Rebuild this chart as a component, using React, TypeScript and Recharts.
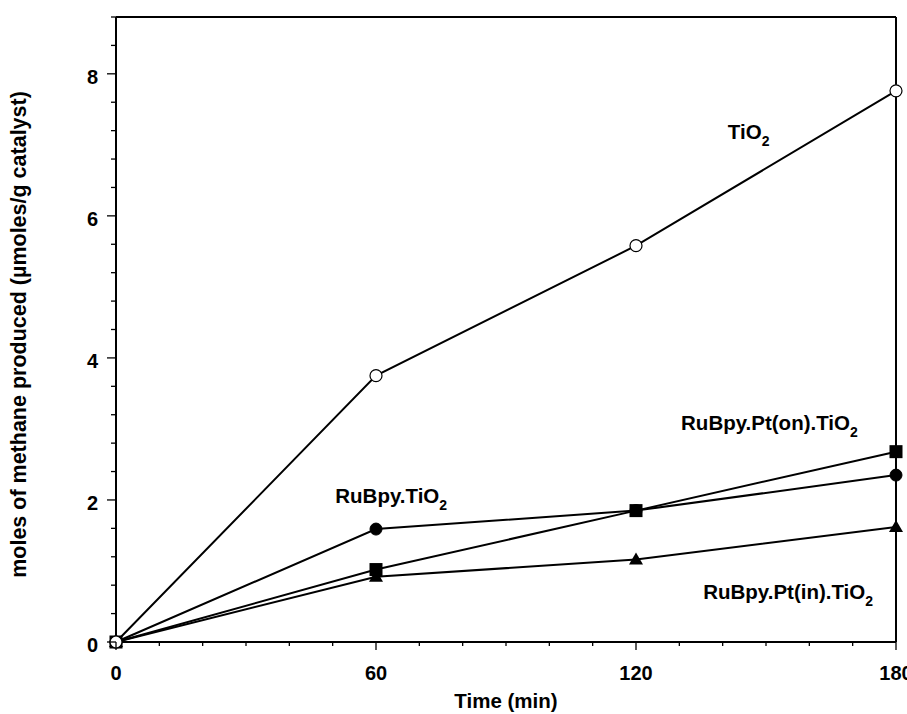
import { LineChart, Line, XAxis, YAxis, ReferenceLine, ReferenceDot, Label } from "recharts";

// Methane yield over irradiation time for four photocatalysts
const times = [0, 60, 120, 180];
const tio2 = [0, 3.75, 5.58, 7.76];
const rubpyTio2 = [0, 1.59, 1.85, 2.35];
const rubpyPtOn = [0, 1.02, 1.85, 2.68];
const rubpyPtIn = [0, 0.92, 1.16, 1.62];

const xTicks = [0, 10, 20, 30, 40, 50, 60, 70, 80, 90, 100, 110, 120, 130, 140, 150, 160, 170, 180];
const xLabelled = [0, 60, 120, 180];
const yTicks = [0, 0.4, 0.8, 1.2, 1.6, 2, 2.4, 2.8, 3.2, 3.6, 4, 4.4, 4.8, 5.2, 5.6, 6, 6.4, 6.8, 7.2, 7.6, 8, 8.4, 8.8];
const yLabelled = [0, 2, 4, 6, 8];

// in-plot series names, anchored at (time, value) of the text's left baseline
const tags = [
  { text: "TiO", sub: "2", x: 141.2, y: 7.08 },
  { text: "RuBpy.Pt(on).TiO", sub: "2", x: 130.4, y: 2.985 },
  { text: "RuBpy.TiO", sub: "2", x: 50.6, y: 1.953 },
  { text: "RuBpy.Pt(in).TiO", sub: "2", x: 135.5, y: 0.605 },
];

const data = times.map((t, i) => ({
  t,
  tio2: tio2[i],
  rubpyTio2: rubpyTio2[i],
  rubpyPtOn: rubpyPtOn[i],
  rubpyPtIn: rubpyPtIn[i],
}));

const FONT = "Arial, 'Liberation Sans', Helvetica, sans-serif";

const XTick = ({ x, y, payload }: any) => {
  const major = xLabelled.includes(payload.value);
  return (
    <g>
      <line x1={x} x2={x} y1={y} y2={y + (major ? 8 : 4)} stroke="#000" strokeWidth={1.3} />
      {major && (
        <text x={x} y={y + 38} textAnchor="middle" fontFamily={FONT} fontWeight="bold" fontSize={20} fill="#000">
          {payload.value}
        </text>
      )}
    </g>
  );
};

const YTick = ({ x, y, payload }: any) => {
  const major = yLabelled.includes(payload.value);
  return (
    <g>
      <line x1={x - (major ? 9 : 5)} x2={x} y1={y} y2={y} stroke="#000" strokeWidth={1.3} />
      {major && (
        <text x={x - 18} y={y + 10} textAnchor="end" fontFamily={FONT} fontWeight="bold" fontSize={20} fill="#000">
          {payload.value}
        </text>
      )}
    </g>
  );
};

const Square = (p: any) => (
  <rect key={`sq-${p.index}`} x={p.cx - 6.5} y={p.cy - 6.5} width={13} height={13} fill="#000" />
);

const Triangle = (p: any) => (
  <polygon
    key={`tr-${p.index}`}
    points={`${p.cx},${p.cy - 7} ${p.cx + 7},${p.cy + 5} ${p.cx - 7},${p.cy + 5}`}
    fill="#000"
  />
);

const tagLabel = (text: string, sub: string) => (p: any) => {
  const vb = p.viewBox || { x: 0, y: 0 };
  return (
    <text x={vb.x} y={vb.y} fontFamily={FONT} fontWeight="bold" fontSize={20.5} fill="#000">
      {text}
      <tspan fontSize={14} dy={7}>{sub}</tspan>
    </text>
  );
};

export default function App() {
  return (
    <div style={{ position: "absolute", left: 0, top: 0, width: 907, height: 714, overflow: "hidden", background: "#fff" }}>
      <LineChart width={907} height={714} data={data} margin={{ top: 17, right: 11, left: 0, bottom: 0 }}>
        <XAxis
          dataKey="t"
          type="number"
          domain={[0, 180]}
          ticks={xTicks}
          interval={0}
          height={72}
          tickSize={0}
          tickMargin={0}
          tickLine={false}
          axisLine={{ stroke: "#000", strokeWidth: 2 }}
          tick={<XTick />}
        >
          <Label
            content={(p: any) => {
              const vb = p.viewBox || { x: 116, y: 642, width: 780, height: 72 };
              return (
                <text x={vb.x + vb.width / 2} y={vb.y + 66} textAnchor="middle" fontFamily={FONT} fontWeight="bold" fontSize={20.5} fill="#000">
                  Time (min)
                </text>
              );
            }}
          />
        </XAxis>
        <YAxis
          type="number"
          domain={[0, 8.8]}
          ticks={yTicks}
          interval={0}
          width={116}
          tickSize={0}
          tickMargin={0}
          tickLine={false}
          axisLine={{ stroke: "#000", strokeWidth: 2 }}
          tick={<YTick />}
        >
          <Label
            content={(p: any) => {
              const vb = p.viewBox || { x: 0, y: 17, width: 116, height: 625 };
              const cx = vb.x + 19;
              const cy = vb.y + vb.height / 2 + 5;
              return (
                <text x={cx} y={cy} transform={`rotate(-90 ${cx} ${cy})`} textAnchor="middle" dominantBaseline="central" fontFamily={FONT} fontWeight="bold" fontSize={21.5} fill="#000">
                  moles of methane produced (µmoles/g catalyst)
                </text>
              );
            }}
          />
        </YAxis>
        <ReferenceLine y={8.8} stroke="#000" strokeWidth={2} />
        <ReferenceLine x={180} stroke="#000" strokeWidth={2} />
        <Line dataKey="rubpyPtIn" stroke="#000" strokeWidth={2} dot={Triangle} activeDot={false} isAnimationActive={false} />
        <Line dataKey="rubpyPtOn" stroke="#000" strokeWidth={2} dot={Square} activeDot={false} isAnimationActive={false} />
        <Line dataKey="rubpyTio2" stroke="#000" strokeWidth={2} dot={{ r: 6, fill: "#000", stroke: "#000", strokeWidth: 1 }} activeDot={false} isAnimationActive={false} />
        <Line dataKey="tio2" stroke="#000" strokeWidth={2} dot={{ r: 6, fill: "#fff", stroke: "#000", strokeWidth: 1.2 }} activeDot={false} isAnimationActive={false} />
        {tags.map((g) => (
          <ReferenceDot key={g.text} x={g.x} y={g.y} r={0} fill="none" stroke="none" label={tagLabel(g.text, g.sub)} />
        ))}
      </LineChart>
    </div>
  );
}
